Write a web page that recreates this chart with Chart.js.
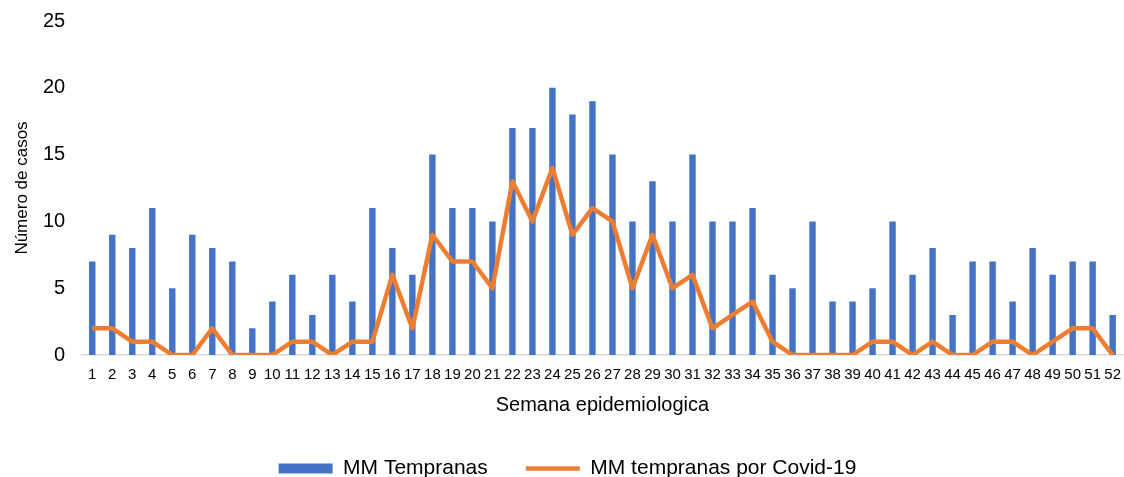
<!DOCTYPE html>
<html lang="es">
<head>
    <meta charset="UTF-8">
    <title>MM Tempranas por semana epidemiologica</title>
    <script src="https://cdn.jsdelivr.net/npm/chart.js"></script>
    <style>
        body {
            margin: 0;
            background-color: #fff;
        }
        .chart-box {
            width: 1124px;
            height: 477px;
        }
    </style>
</head>
<body>
    <div class="chart-box">
        <canvas id="grafico" width="1124" height="477"></canvas>
    </div>

    <script>
        var semanas = [];
        for (var i = 1; i <= 52; i++) semanas.push(String(i));

        var mmTempranas = [7, 9, 8, 11, 5, 9, 8, 7, 2, 4, 6, 3, 6, 4, 11, 8, 6, 15, 11, 11,
            10, 17, 17, 20, 18, 19, 15, 10, 13, 10, 15, 10, 10, 11, 6, 5, 10, 4, 4, 5,
            10, 6, 8, 3, 7, 7, 4, 8, 6, 7, 7, 3];

        var mmCovid = [2, 2, 1, 1, 0, 0, 2, 0, 0, 0, 1, 1, 0, 1, 1, 6, 2, 9, 7, 7,
            5, 13, 10, 14, 9, 11, 10, 5, 9, 5, 6, 2, 3, 4, 1, 0, 0, 0, 0, 1,
            1, 0, 1, 0, 0, 1, 1, 0, 1, 2, 2, 0];

        var ticksY = [0, 5, 10, 15, 20, 25];

        var fuente = "'Liberation Sans', Arial, sans-serif";

        var ctx = document.getElementById('grafico').getContext('2d');
        var grafico = new Chart(ctx, {
            type: 'bar',
            data: {
                labels: semanas,
                datasets: [
                    {
                        label: 'MM Tempranas',
                        data: mmTempranas,
                        backgroundColor: '#4472C4',
                        borderWidth: 0,
                        barPercentage: 0.32,
                        categoryPercentage: 1,
                        pointStyle: 'rect',
                        order: 1
                    },
                    {
                        type: 'line',
                        label: 'MM tempranas por Covid-19',
                        data: mmCovid,
                        borderColor: '#ED7D31',
                        backgroundColor: '#ED7D31',
                        borderWidth: 4.5,
                        borderJoinStyle: 'round',
                        tension: 0,
                        pointRadius: 0,
                        pointStyle: 'line',
                        order: 0
                    }
                ]
            },
            options: {
                responsive: false,
                animation: false,
                devicePixelRatio: 1,
                layout: {
                    padding: { top: 3, right: 1, left: 12, bottom: -12 }
                },
                plugins: {
                    tooltip: { enabled: false },
                    legend: {
                        position: 'bottom',
                        labels: {
                            usePointStyle: true,
                            pointStyleWidth: 54,
                            boxHeight: 10,
                            padding: 38,
                            color: '#000',
                            font: { family: fuente, size: 21 },
                            sort: function (a, b) { return a.datasetIndex - b.datasetIndex; }
                        }
                    }
                },
                scales: {
                    x: {
                        offset: true,
                        grid: { display: false },
                        border: { display: true, color: '#D9D9D9', width: 1.5 },
                        ticks: {
                            color: '#000',
                            maxRotation: 0,
                            autoSkip: false,
                            padding: 3,
                            font: { family: fuente, size: 15 }
                        },
                        title: {
                            display: true,
                            text: 'Semana epidemiologica',
                            color: '#000',
                            font: { family: fuente, size: 20 },
                            padding: { top: 6, bottom: 3 }
                        }
                    },
                    y: {
                        min: 0,
                        max: 25,
                        afterBuildTicks: function (axis) {
                            axis.ticks = ticksY.map(function (v) { return { value: v }; });
                        },
                        grid: { display: false },
                        border: { display: false },
                        ticks: {
                            color: '#000',
                            padding: 9,
                            font: { family: fuente, size: 20 }
                        },
                        title: {
                            display: true,
                            text: 'Número de casos',
                            color: '#000',
                            font: { family: fuente, size: 17 },
                            padding: { top: 0, bottom: 1.6 }
                        }
                    }
                }
            }
        });
    </script>
</body>
</html>
